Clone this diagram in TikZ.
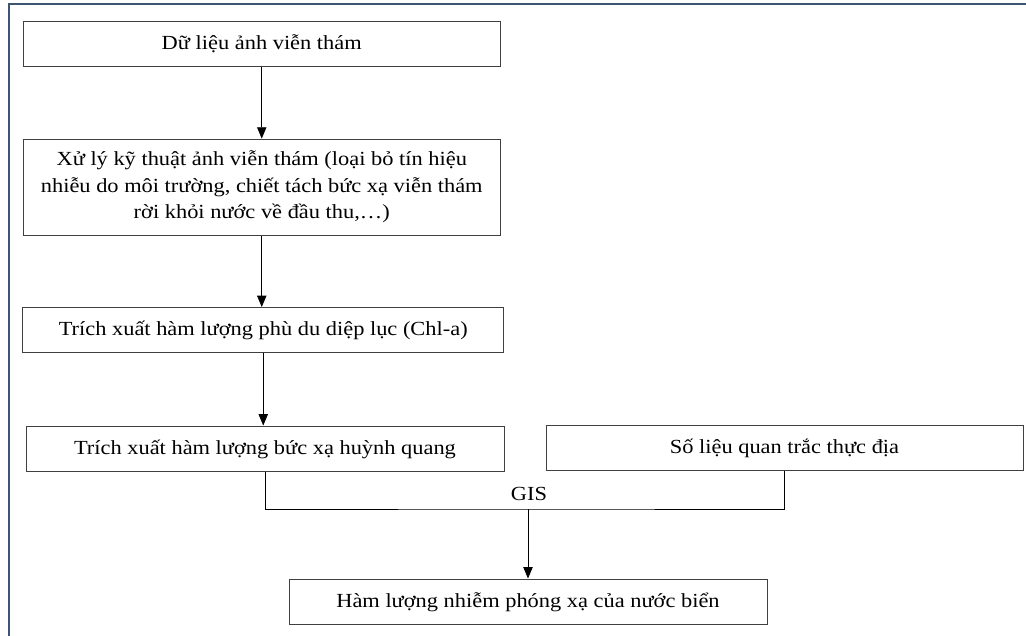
\documentclass[tikz,border=0pt]{standalone}
\usepackage{fontspec}
\setmainfont{Liberation Serif}[FakeStretch=1.12]
\usetikzlibrary{arrows.meta}
\definecolor{framecol}{RGB}{62,84,115}
\definecolor{boxcol}{RGB}{64,64,64}

\begin{document}
\begin{tikzpicture}[x=0.75pt,y=-0.75pt,
    stepbox/.style={draw=boxcol, line width=0.75pt, inner sep=0pt, minimum height=33.4pt, align=center, font=\fontsize{15}{19.9}\selectfont},
    oneline/.style={text height=12.5pt, text depth=3.2pt},
    flow/.style={-{Triangle[length=8.5pt,width=7pt]}, line width=0.6pt}]
    \useasboundingbox (0,0) rectangle (1026,636);
    %Frame
    \draw[framecol, line width=1.5pt] (1026,4) -- (9,4) -- (9,636);
    %Remote sensing data
    \node[stepbox, oneline, minimum width=357.4pt] (data) at (261.75,43.75) {Dữ liệu ảnh viễn thám};
    %Image processing
    \node[stepbox, minimum width=357.4pt, minimum height=72pt] (proc) at (261.75,187.1) {Xử lý kỹ thuật ảnh viễn thám (loại bỏ tín hiệu\\nhiễu do môi trường, chiết tách bức xạ viễn thám\\rời khỏi nước về đầu thu,…)};
    %Chl-a
    \node[stepbox, oneline, minimum width=361.1pt] (chla) at (263.25,329.75) {Trích xuất hàm lượng phù du diệp lục (Chl-a)};
    %Fluorescence and field data
    \node[stepbox, oneline, minimum width=358.5pt, minimum height=33.75pt] (fluor) at (265,448.5) {Trích xuất hàm lượng bức xạ huỳnh quang};
    \node[stepbox, oneline, minimum width=357.75pt, minimum height=33.75pt] (field) at (784.5,447.5) {Số liệu quan trắc thực địa};
    %Result
    \node[stepbox, oneline, minimum width=358.5pt, minimum height=33.75pt] (result) at (528,601.5) {Hàm lượng nhiễm phóng xạ của nước biển};
    %Arrows
    \draw[flow] (data.south) -- (data.south |- proc.north);
    \draw[flow] (proc.south) -- (proc.south |- chla.north);
    \draw[flow] (chla.south) -- (chla.south |- fluor.north);
    %GIS
    \coordinate (gis) at (528,509);
    \node[anchor=base, font=\fontsize{15}{19.9}\selectfont] (gislabel) at (529,500.5) {GIS};
    \draw[line width=0.6pt] (fluor.south) |- (gis) -| (field.south);
    \draw[flow] (gis) -- (result.north);
\end{tikzpicture}
\end{document}
